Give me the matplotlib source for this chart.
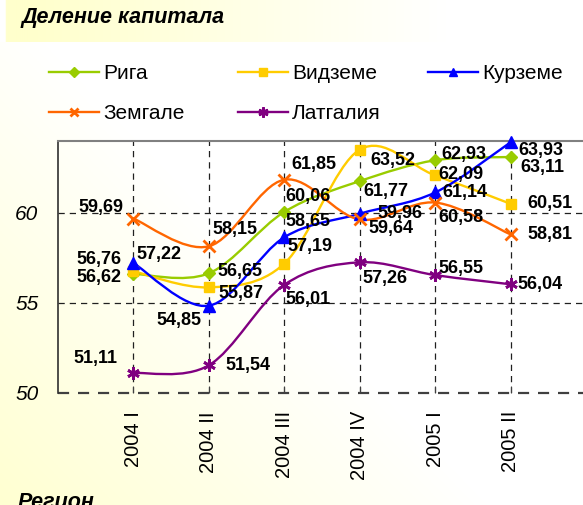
import numpy as np
import matplotlib
matplotlib.use('Agg')
import matplotlib.pyplot as plt
from matplotlib.path import Path
from matplotlib.patches import PathPatch
from matplotlib.lines import Line2D

plt.rcParams['font.family'] = ['Liberation Sans', 'DejaVu Sans']

periods = ['2004 I', '2004 II', '2004 III', '2004 IV', '2005 I', '2005 II']
riga = [56.62, 56.65, 60.06, 61.77, 62.93, 63.11]
vidzeme = [56.76, 55.87, 57.19, 63.52, 62.09, 60.51]
kurzeme = [57.22, 54.85, 58.65, 59.96, 61.14, 63.93]
zemgale = [59.69, 58.15, 61.85, 59.64, 60.58, 58.81]
latgale = [51.11, 51.54, 56.01, 57.26, 56.55, 56.04]

names = ['Рига', 'Видземе', 'Курземе', 'Земгале', 'Латгалия']
series = [riga, vidzeme, kurzeme, zemgale, latgale]
colors = ['#99CC00', '#FFCC00', '#0000FF', '#FF6600', '#800080']
markers = ['D', 's', '^', 'x', (6, 2, 0)]
msizes = [6, 7, 8, 8, 9]

# label offsets in pixels (dx, dy), dy up positive
offsets = [
    [(-34, -4), (31, 2), (24, 15), (26, -10), (29, 6), (32, -10)],
    [(-34, 12), (32, -6), (26, 17), (33, -11), (26, 1), (39, 0)],
    [(26, 9), (-30, -15), (24, 16), (40, 0), (30, 0), (30, -8)],
    [(-32, 11), (26, 17), (30, 15), (31, -9), (26, -15), (39, 0)],
    [(-38, 15), (39, 0), (24, -15), (25, -16), (26, 7), (29, 0)],
]


def smooth_path(xs, ys):
    # Excel-like smoothed line: cubic Bezier segments through the points
    pts = np.column_stack([xs, ys]).astype(float)
    n = len(pts)
    verts = [pts[0]]
    codes = [Path.MOVETO]
    for i in range(n - 1):
        p0 = pts[max(i - 1, 0)]
        p1 = pts[i]
        p2 = pts[i + 1]
        p3 = pts[min(i + 2, n - 1)]
        c1 = p1 + (p2 - p0) / 6.0
        c2 = p2 - (p3 - p1) / 6.0
        verts += [c1, c2, p2]
        codes += [Path.CURVE4] * 3
    return Path(verts, codes)


W, H = 583, 505
fig = plt.figure(figsize=(W / 100, H / 100), dpi=100)

# background: yellow at bottom left fading to white, plus title band
bg = fig.add_axes([0, 0, 1, 1], zorder=-10)
gx = np.linspace(0, 1, 300)[None, :]
gy = np.linspace(1, 0, H)[:, None]
img = np.ones((H, 300, 3))
img[:, :, 2] = 0.82 + 0.18 * np.clip(gx * 1.2 + gy * 1.0, 0, 1)
band = 0.80 + 0.20 * np.clip((gx[0] - 0.05) * 1.4, 0, 1)
img[:42, :, 2] = band
img[:42, :3, 2] = 1.0
bg.imshow(img, aspect='auto', extent=[0, 1, 0, 1])
bg.set_axis_off()

ax = fig.add_axes([58 / W, (H - 393) / H, 528 / W, 252 / H])
ax.set_facecolor('none')
x = np.arange(len(periods))
ax.set_xlim(-1, 6)
ax.set_ylim(50, 64)

for s, c, m, ms, offs in zip(series, colors, markers, msizes, offsets):
    ax.add_patch(PathPatch(smooth_path(x, s), fill=False, edgecolor=c, lw=1.7, zorder=3))
    ax.plot(x, s, linestyle='none', marker=m, color=c, markersize=ms,
            markeredgewidth=2 if m in ('x',) or isinstance(m, tuple) else 1,
            zorder=4, clip_on=False)
    for xi, yi, (dx, dy) in zip(x, s, offs):
        ax.annotate(('%.2f' % yi).replace('.', ','), (xi, yi), xytext=(dx, dy),
                    textcoords='offset pixels', ha='center', va='center',
                    fontsize=13, fontweight='bold', zorder=5)

ax.set_yticks([50, 55, 60])
ax.set_yticklabels(['50', '55', '60'])
for t in ax.get_yticklabels():
    t.set_fontsize(15)
    t.set_fontstyle('italic')
ax.set_xticks(x)
ax.set_xticklabels(periods, rotation=90, fontsize=14.5)
ax.tick_params(axis='y', length=0, pad=14)
ax.tick_params(axis='x', direction='in', length=5, pad=13, color='#404040')
for v in [55, 60]:
    ax.axhline(v, color='#202020', lw=0.9, ls=(0, (5, 4)), zorder=1)
ax.axhline(50, color='#404040', lw=1.6, ls=(0, (5, 4)), zorder=2, clip_on=False)
for xi in x:
    ax.axvline(xi, color='#202020', lw=0.9, ls=(0, (5, 4)), zorder=1)
ax.spines['bottom'].set_visible(False)
ax.spines['right'].set_visible(False)
ax.spines['top'].set_color('#808080')
ax.spines['top'].set_linewidth(1.5)
ax.spines['left'].set_color('#303030')
ax.spines['left'].set_linewidth(1.2)

# legend, one block per column
handles = [Line2D([], [], color=c, marker=m, markersize=ms * 0.8, lw=1.7,
                  markeredgewidth=2 if m == 'x' or isinstance(m, tuple) else 1)
           for c, m, ms in zip(colors, markers, msizes)]
cols = [([0, 3], 49), ([1, 4], 238), ([2], 428)]
for idx, px in cols:
    fig.legend([handles[i] for i in idx], [names[i] for i in idx],
               loc='upper left', bbox_to_anchor=(px / W, 1 - 64 / H),
               frameon=False, fontsize=15, handlelength=2.4, handletextpad=0.2,
               labelspacing=1.0, borderpad=0, borderaxespad=0)

fig.text(22 / W, 1 - 18 / H, 'Деление капитала', fontsize=15.5, fontweight='bold',
         fontstyle='italic', va='center', ha='left')
fig.text(18 / W, 1 - 502 / H, 'Регион', fontsize=15.5, fontweight='bold',
         fontstyle='italic', va='center', ha='left')

fig.savefig('out.png', dpi=100)
